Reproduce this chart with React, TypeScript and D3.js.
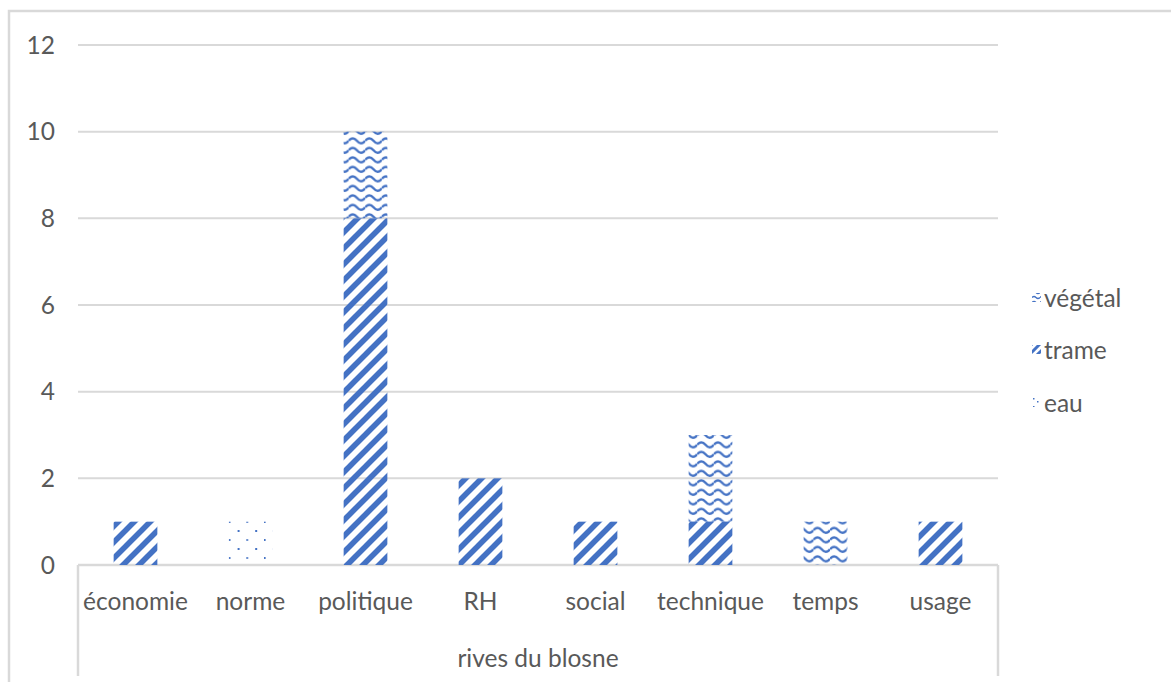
import React from "react";
import * as d3 from "d3";

const categories = ["économie", "norme", "politique", "RH", "social", "technique", "temps", "usage"];
const groupLabel = "rives du blosne";
const eau = [0, 1, 0, 0, 0, 0, 0, 0];
const trame = [1, 0, 8, 2, 1, 1, 0, 1];
const vegetal = [0, 0, 2, 0, 0, 2, 1, 0];
const seriesNames = ["eau", "trame", "végétal"];
const yTicks = [0, 2, 4, 6, 8, 10, 12];

const W = 1171;
const H = 682;
const BLUE = "#4472C4";
const GRID = "#d9d9d9";
const TXT = "#595959";
const FONT = "Lato, 'Open Sans', sans-serif";
const FS = 24.5;

export default function App() {
  const x = d3.scaleBand<string>().domain(categories).range([78, 998]).paddingInner(0.62).paddingOuter(0.31);
  const y = d3.scaleLinear().domain([0, 12]).range([565, 45]);
  const rows = categories.map((c, i) => ({ cat: c, eau: eau[i], trame: trame[i], "végétal": vegetal[i] }));
  const stack = d3.stack<any>().keys(seriesNames)(rows);
  const fills: Record<string, string> = { eau: "url(#pDots)", trame: "url(#pStripe)", "végétal": "url(#pWave)" };
  const legendFills: Record<string, string> = { eau: "url(#lDots)", trame: "url(#lStripe)", "végétal": "url(#lWave)" };
  const legendItems = ["végétal", "trame", "eau"];
  const legendY = [298, 350, 403];

  return (
    <svg width={W} height={H} style={{ position: "absolute", left: 0, top: 0, background: "#fff" }}>
      <defs>
        <pattern id="pStripe" patternUnits="userSpaceOnUse" width={16} height={16}>
          <path d="M-4,4 L4,-4 M0,16 L16,0 M12,20 L20,12" stroke={BLUE} strokeWidth={5.6} />
        </pattern>
        <pattern id="pWave" patternUnits="userSpaceOnUse" width={16.6} height={9.5} y={3}>
          <path d="M0,4.8 Q4.15,-0.2 8.3,4.8 T16.6,4.8" fill="none" stroke={BLUE} strokeWidth={2.4} />
        </pattern>
        <pattern id="pDots" patternUnits="userSpaceOnUse" width={17.6} height={18} y={8}>
          <rect x={8.8} y={0} width={2} height={2} fill={BLUE} />
          <rect x={0} y={9} width={1.6} height={2} fill={BLUE} />
        </pattern>
        <pattern id="lStripe" patternUnits="userSpaceOnUse" width={8} height={8}>
          <path d="M-2,2 L2,-2 M0,8 L8,0 M6,10 L10,6" stroke={BLUE} strokeWidth={3} />
        </pattern>
        <pattern id="lWave" patternUnits="userSpaceOnUse" width={8} height={5}>
          <path d="M0,2.5 Q2,0.5 4,2.5 T8,2.5" fill="none" stroke={BLUE} strokeWidth={1.3} />
        </pattern>
        <pattern id="lDots" patternUnits="userSpaceOnUse" width={8} height={8}>
          <rect x={5} y={1} width={1.5} height={1.5} fill={BLUE} />
          <rect x={1} y={6} width={1.5} height={1.5} fill={BLUE} />
        </pattern>
      </defs>

      {/* chart border */}
      <path d={`M9,${H} L9,11 L${W},11`} fill="none" stroke={GRID} strokeWidth={2.5} />

      {/* gridlines */}
      {yTicks.filter((t) => t > 0).map((t) => (
        <line key={t} x1={78} x2={998} y1={y(t)} y2={y(t)} stroke={GRID} strokeWidth={2} />
      ))}
      {/* category axis box */}
      <line x1={78} x2={998} y1={y(0)} y2={y(0)} stroke={GRID} strokeWidth={2.5} />
      <line x1={78} x2={78} y1={y(0)} y2={676} stroke={GRID} strokeWidth={2.5} />
      <line x1={998} x2={998} y1={y(0)} y2={676} stroke={GRID} strokeWidth={2.5} />

      {/* y tick labels */}
      {yTicks.map((t) => (
        <text key={t} x={55} y={y(t)} dy="0.35em" textAnchor="end" fontFamily={FONT} fontSize={FS} fill={TXT}>
          {t}
        </text>
      ))}

      {/* bars */}
      {stack.map((s) => (
        <g key={s.key}>
          {s.map((d, i) =>
            d[1] - d[0] > 0 ? (
              <rect
                key={i}
                x={x(categories[i])}
                width={x.bandwidth()}
                y={y(d[1])}
                height={y(d[0]) - y(d[1])}
                fill={fills[s.key]}
              />
            ) : null
          )}
        </g>
      ))}

      {/* category labels */}
      {categories.map((c) => (
        <text key={c} x={(x(c) as number) + x.bandwidth() / 2} y={601} dy="0.35em" textAnchor="middle" fontFamily={FONT} fontSize={FS} fill={TXT}>
          {c}
        </text>
      ))}
      <text x={538} y={658} dy="0.35em" textAnchor="middle" fontFamily={FONT} fontSize={FS} fill={TXT}>
        {groupLabel}
      </text>

      {/* legend */}
      {legendItems.map((k, i) => (
        <g key={k}>
          <rect x={1032} y={legendY[i] - 5} width={9} height={9} fill={legendFills[k]} />
          <text x={1044} y={legendY[i]} dy="0.35em" fontFamily={FONT} fontSize={FS} fill={TXT}>
            {k}
          </text>
        </g>
      ))}
    </svg>
  );
}
